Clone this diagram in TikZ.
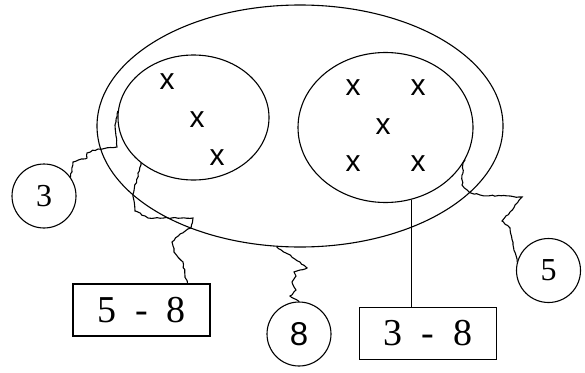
\documentclass[tikz,border=0pt]{standalone}
\usepackage{fontspec}
\setmainfont{Liberation Serif}
\newfontfamily\markfont{Liberation Sans}
\usetikzlibrary{shapes.geometric,decorations.pathmorphing}

\begin{document}
\begin{tikzpicture}[x=1pt, y=-1pt, line width=1.1pt,
		setell/.style={draw, ellipse, inner sep=0pt},
		elem/.style={font=\markfont\fontsize{30}{30}\selectfont},
		countcirc/.style={draw, circle, minimum size=64pt, inner sep=0pt, font=\fontsize{32}{32}\selectfont},
		rangebox/.style={draw, rectangle, minimum width=137pt, minimum height=52pt, inner sep=0pt, font=\fontsize{38}{38}\selectfont},
		wiggle/.style={decorate, decoration={random steps, segment length=3pt, amplitude=0.7pt}}]
	\useasboundingbox (0,0) rectangle (585,372);
	% sets
	\node[setell, minimum width=406pt, minimum height=242pt] (univ) at (300,126) {};
	\node[setell, minimum width=151pt, minimum height=125pt] (lset) at (193.5,117.5) {};
	\node[setell, minimum width=175pt, minimum height=150pt] (rset) at (385.5,127.5) {};
	% elements
	\foreach \p [count=\i] in {(167,82), (197,120), (217,158)}
		\node[elem] (lx\i) at \p {x};
	\foreach \p [count=\i] in {(353,88), (418,88), (383,127), (353,164), (418,164)}
		\node[elem] (rx\i) at \p {x};
	% counts and ranges
	\node[countcirc] (c3) at (44,196) {3};
	\node[countcirc, font=\markfont\fontsize{33}{33}\selectfont] (c8) at (299,334) {8};
	\node[countcirc] (c5) at (548.5,270.5) {5};
	\node[rangebox] (b58) at (141.5,310) {5\hspace{0.5em}-\hspace{0.5em}8};
	\node[rangebox] (b38) at (428,333.5) {3\hspace{0.5em}-\hspace{0.5em}8};
	% connectors
	\draw[wiggle] (c3.35) -- (73,162) -- (87,158) -- (87,153) -- (98,149)
		-- (117,147) -- (115,125) -- (lset.175);
	\draw[wiggle] (b58.30) -- (185,276) -- (183,262) -- (174,252) -- (172,242)
		-- (180,234) -- (191,228) -- (193,218) -- (148,218) -- (135,211)
		-- (133,194) -- (lset.221);
	\draw[wiggle] (c8.north) -- (290,296) -- (296,290) -- (292,282) -- (296,276)
		-- (294,272) -- (307,268) -- (300,262) -- (286,253) -- (univ.259);
	\draw[wiggle] (c5.165) -- (513,245) -- (510,228) -- (502,221) -- (510,212)
		-- (522,197) -- (480,195) -- (469,192) -- (462,185) -- (463,163)
		-- (rset.338);
	\draw (rset.290) -- (rset.290 |- b38.north);
\end{tikzpicture}
\end{document}
